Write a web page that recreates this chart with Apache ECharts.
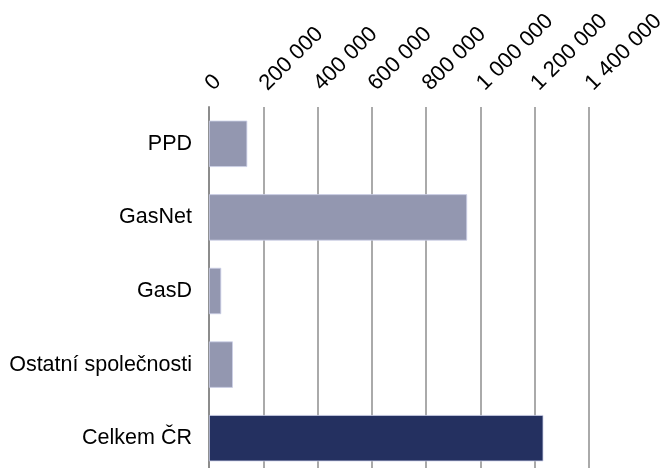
<!DOCTYPE html>
<html>
<head>
<meta charset="utf-8">
<script src="https://cdn.jsdelivr.net/npm/echarts@6/dist/echarts.min.js"></script>
<style>
  html, body { margin: 0; padding: 0; background: #fff; }
  #chart { width: 662px; height: 468px; }
</style>
</head>
<body>
<div id="chart"></div>
<script>
// kategorie (shora dolů)
var categories = ["PPD", "GasNet", "GasD", "Ostatní společnosti", "Celkem ČR"];
var values = [141000, 951000, 45000, 88000, 1232000];
var barColors = ["#9397b0", "#9397b0", "#9397b0", "#9397b0", "#243060"];

var chart = echarts.init(document.getElementById("chart"));

function fmt(v) {
  return String(v).replace(/\B(?=(\d{3})+(?!\d))/g, " ");
}

chart.setOption({
  animation: false,
  grid: {
    left: 209,
    right: 73,
    top: 107,
    bottom: -7,
    containLabel: false,
    outerBoundsMode: "none",
  },
  xAxis: {
    type: "value",
    position: "top",
    min: 0,
    max: 1400000,
    interval: 200000,
    axisLine: { show: false },
    axisTick: { show: false },
    axisLabel: {
      rotate: -45,
      margin: 20,
      color: "#000",
      fontFamily: "Liberation Sans, Arial, sans-serif",
      fontSize: 22,
      formatter: fmt,
    },
    splitLine: {
      show: true,
      lineStyle: { color: "#aaaaaa", width: 2 },
    },
  },
  yAxis: {
    type: "category",
    inverse: true,
    data: categories,
    axisLine: { show: true, lineStyle: { color: "#8c8c8c", width: 2 } },
    axisTick: { show: false },
    axisLabel: {
      margin: 17,
      color: "#000",
      fontFamily: "Liberation Sans, Arial, sans-serif",
      fontSize: 21.5,
    },
  },
  series: [
    {
      type: "bar",
      barCategoryGap: "37%",
      data: values.map(function (v, i) {
        return { value: v, itemStyle: { color: barColors[i] } };
      }),
      itemStyle: { borderColor: "#cdd1e8", borderWidth: 0.8 },
    },
  ],
});
</script>
</body>
</html>
